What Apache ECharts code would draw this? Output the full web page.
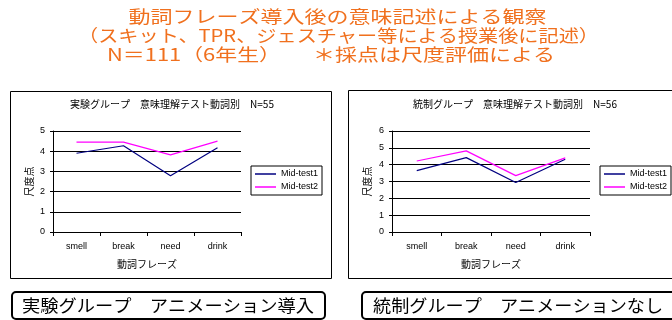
<!DOCTYPE html>
<html>
<head>
<meta charset="utf-8">
<script src="https://cdn.jsdelivr.net/npm/echarts@6/dist/echarts.min.js"></script>
<style>html,body{margin:0;padding:0;background:#fff;}#c{width:672px;height:320px;}</style>
</head>
<body>
<div id="c"></div>
<script>
// ---- data ----
const categories = ['smell', 'break', 'need', 'drink'];
const seriesNames = ['Mid-test1', 'Mid-test2'];
const expMidTest1 = [3.9, 4.27, 2.78, 4.17];
const expMidTest2 = [4.45, 4.45, 3.82, 4.5];
const ctlMidTest1 = [3.65, 4.42, 2.94, 4.32];
const ctlMidTest2 = [4.22, 4.82, 3.35, 4.4];
const expYMax = 5;
const ctlYMax = 6;
const mainTitle1 = '動詞フレーズ導入後の意味記述による観察';
const mainTitle2 = '（スキット、TPR、ジェスチャー等による授業後に記述）';
const mainTitle3a = 'N＝111（6年生）';
const mainTitle3b = '＊採点は尺度評価による';
const expTitle = '実験グループ　意味理解テスト動詞別　N=55';
const ctlTitle = '統制グループ　意味理解テスト動詞別　N=56';
const xName = '動詞フレーズ';
const yName = '尺度点';
const expCaption = '実験グループ　アニメーション導入';
const ctlCaption = '統制グループ　アニメーションなし';

const FONT = '"Liberation Sans", "Noto Sans CJK JP", sans-serif';
const JFONT = '"Noto Sans CJK JP", sans-serif';
const navy = '#000080', magenta = '#ff00ff';
const orange = '#f0701e';

const measureCtx = document.createElement('canvas').getContext('2d');
function fitScale(text, font, target) {
  measureCtx.font = font;
  return target / measureCtx.measureText(text).width;
}

function xAxis(gi) {
  return {
    type: 'category', gridIndex: gi, data: categories, boundaryGap: true,
    name: xName, nameLocation: 'middle', nameGap: 27,
    nameTextStyle: { fontFamily: JFONT, fontSize: 10, color: '#000' },
    axisLine: { lineStyle: { color: '#000', width: 1 } },
    axisTick: { show: true, length: 4, lineStyle: { color: '#000' } },
    axisLabel: { fontFamily: FONT, fontSize: 9, color: '#000', margin: 10 },
    splitLine: { show: false }
  };
}
function yAxis(gi, max, gap) {
  return {
    type: 'value', gridIndex: gi, min: 0, max: max, interval: 1,
    name: yName, nameLocation: 'middle', nameGap: gap, nameRotate: 90,
    nameTextStyle: { fontFamily: JFONT, fontSize: 10, color: '#000' },
    axisLine: { show: true, lineStyle: { color: '#000', width: 1 } },
    axisTick: { show: true, length: 3, lineStyle: { color: '#000' } },
    axisLabel: { fontFamily: FONT, fontSize: 9, color: '#000', margin: 8 },
    splitLine: { show: true, lineStyle: { color: '#000', width: 1 } }
  };
}
function line(name, data, gi, color) {
  return {
    type: 'line', name: name, data: data, xAxisIndex: gi, yAxisIndex: gi,
    symbol: 'none', smooth: false, animation: false,
    lineStyle: { color: color, width: 1.2 }, itemStyle: { color: color }
  };
}
function legend(left) {
  return {
    data: seriesNames, orient: 'vertical', left: left, top: 166,
    padding: [2, 4, 2, 4], itemGap: 1, itemWidth: 21, itemHeight: 1.5, icon: 'rect',
    borderColor: '#000', borderWidth: 1, backgroundColor: '#fff',
    textStyle: { fontFamily: FONT, fontSize: 9, color: '#000', lineHeight: 12 },
    selectedMode: false
  };
}

const TF = '17px ' + JFONT;
function titleText(text, x, y, align, target) {
  return { type: 'text', x: x, y: y, scaleX: fitScale(text, TF, target),
    style: { text: text, textAlign: align, textVerticalAlign: 'middle', fill: orange, font: TF } };
}

const graphics = [];
// chart frames
graphics.push({ type: 'rect', z: -10, shape: { x: 10.5, y: 91.5, width: 321, height: 187 }, style: { fill: '#fff', stroke: '#000', lineWidth: 1 } });
graphics.push({ type: 'rect', z: -10, shape: { x: 348.5, y: 90.5, width: 340, height: 188 }, style: { fill: '#fff', stroke: '#000', lineWidth: 1 } });
// main title
graphics.push(titleText(mainTitle1, 337.5, 17, 'center', 418));
graphics.push(titleText(mainTitle2, 338.5, 36, 'center', 521));
graphics.push(titleText(mainTitle3a, 107, 55, 'left', 174));
graphics.push(titleText(mainTitle3b, 313, 55, 'left', 242));
// chart titles
graphics.push({ type: 'text', x: 172, y: 104, style: { text: expTitle, textAlign: 'center', textVerticalAlign: 'middle', fill: '#000', font: '10px ' + JFONT } });
graphics.push({ type: 'text', x: 515, y: 104, style: { text: ctlTitle, textAlign: 'center', textVerticalAlign: 'middle', fill: '#000', font: '10px ' + JFONT } });
// captions
graphics.push({ type: 'rect', shape: { x: 12, y: 292, width: 313, height: 27, r: 4 }, style: { fill: '#fff', stroke: '#000', lineWidth: 2 } });
graphics.push({ type: 'rect', shape: { x: 362, y: 292, width: 320, height: 27, r: 4 }, style: { fill: '#fff', stroke: '#000', lineWidth: 2 } });
graphics.push({ type: 'text', x: 168, y: 306, scaleX: fitScale(expCaption, '17px ' + JFONT, 292),
  style: { text: expCaption, textAlign: 'center', textVerticalAlign: 'middle', fill: '#000', font: '17px ' + JFONT } });
graphics.push({ type: 'text', x: 373, y: 306, scaleX: fitScale(ctlCaption, '17px ' + JFONT, 290),
  style: { text: ctlCaption, textAlign: 'left', textVerticalAlign: 'middle', fill: '#000', font: '17px ' + JFONT } });

const chart = echarts.init(document.getElementById('c'), null, { renderer: 'canvas' });
chart.setOption({
  animation: false,
  backgroundColor: '#fff',
  grid: [
    { left: 53, top: 131, width: 188, height: 101, containLabel: false },
    { left: 392, top: 131, width: 198, height: 101, containLabel: false }
  ],
  xAxis: [xAxis(0), xAxis(1)],
  yAxis: [yAxis(0, expYMax, 19), yAxis(1, ctlYMax, 20)],
  legend: [legend(251), legend(600)],
  series: [
    line(seriesNames[0], expMidTest1, 0, navy),
    line(seriesNames[1], expMidTest2, 0, magenta),
    line(seriesNames[0], ctlMidTest1, 1, navy),
    line(seriesNames[1], ctlMidTest2, 1, magenta)
  ],
  graphic: graphics
});
</script>
</body>
</html>
